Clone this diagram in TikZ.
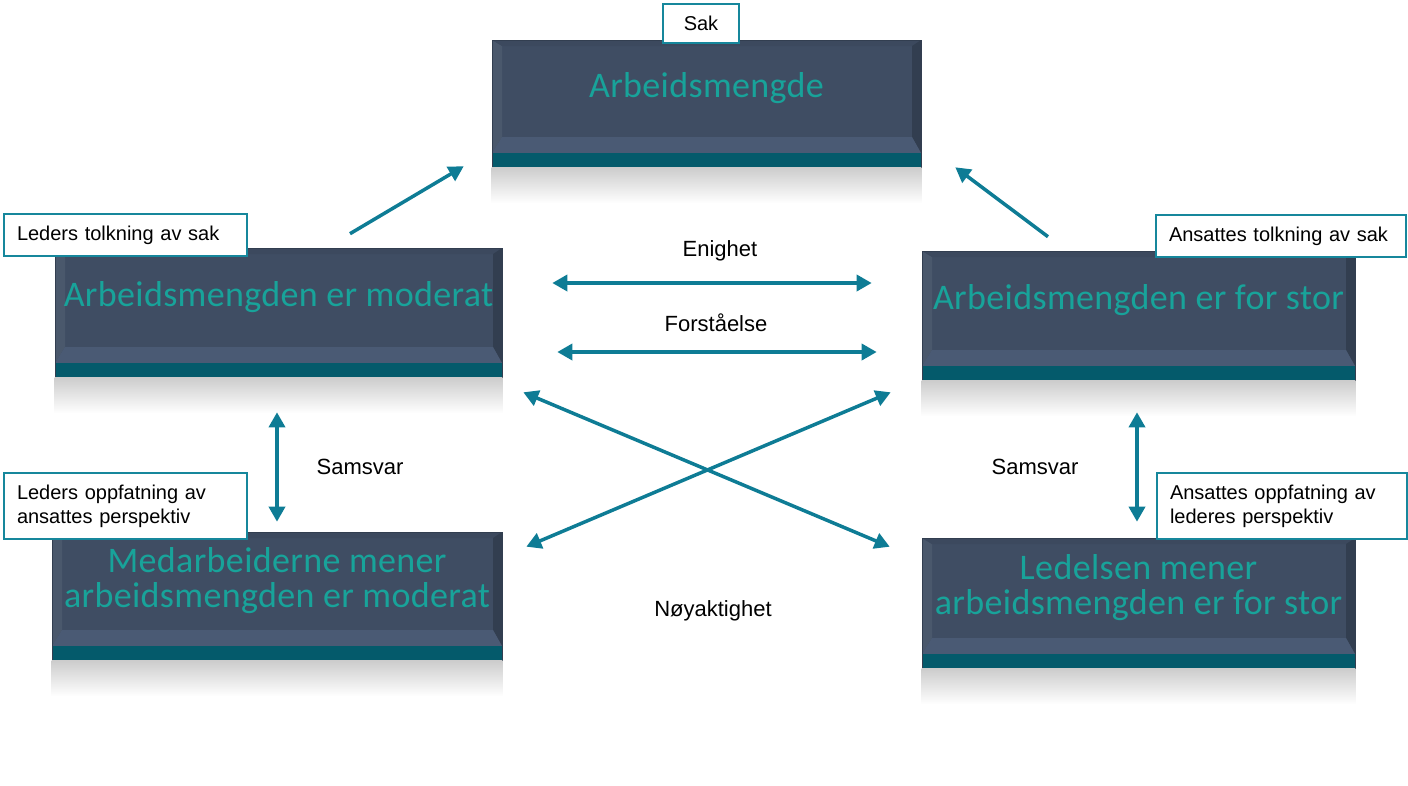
\documentclass[tikz,border=0pt]{standalone}
\usepackage{fontspec}
\setmainfont{Liberation Sans}
\newfontfamily\viewfont[LetterSpace=1]{Carlito}
\usetikzlibrary{arrows.meta}

\definecolor{slate}{HTML}{3F4D63}
\definecolor{slatelight}{HTML}{4A5A74}
\definecolor{slatedark}{HTML}{323E50}
\definecolor{stripteal}{HTML}{045A6B}
\definecolor{wordteal}{HTML}{18A39A}
\definecolor{arrowteal}{HTML}{0E7C95}
\definecolor{tagteal}{HTML}{16879C}

\begin{document}
\begin{tikzpicture}[x=1pt, y=-1pt,
    viewbox/.style={rectangle, fill=slate, draw=slatedark, line width=0.6pt, inner sep=0pt,
        path picture={
            \coordinate (sw) at (path picture bounding box.south west);
            \coordinate (se) at (path picture bounding box.south east);
            \coordinate (nw) at (path picture bounding box.north west);
            \coordinate (ne) at (path picture bounding box.north east);
            % bevel edges
            \fill[slate!94!white] ([yshift=14pt]sw) -- (nw) -- ([shift={(10pt,-6pt)}]nw) -- ([shift={(10pt,30pt)}]sw) -- cycle;
            \fill[slatedark!25!slate] (nw) -- (ne) -- ([shift={(-9pt,-6pt)}]ne) -- ([shift={(10pt,-6pt)}]nw) -- cycle;
            \fill[slatedark] (ne) -- ([yshift=14pt]se) -- ([shift={(-9pt,30pt)}]se) -- ([shift={(-9pt,-6pt)}]ne) -- cycle;
            \fill[slatelight] ([yshift=14pt]sw) -- ([yshift=14pt]se) -- ([shift={(-9pt,30pt)}]se) -- ([shift={(10pt,30pt)}]sw) -- cycle;
            % base strip
            \fill[stripteal] (sw) rectangle ([yshift=14pt]se);
        }},
    viewtext/.style={text=wordteal, align=center, font=\viewfont\fontsize{36}{35}\selectfont},
    tagbox/.style={rectangle, draw=tagteal, line width=2pt, fill=white, align=left, inner xsep=13pt, inner ysep=0pt, anchor=north west, font=\fontsize{20}{24}\selectfont},
    relation/.style={font=\fontsize{22}{26}\selectfont},
    link/.style={draw=arrowteal, line width=3.5pt, -{Triangle[length=15pt,width=16pt]}},
    twolink/.style={link, {Triangle[length=15pt,width=16pt]}-{Triangle[length=15pt,width=16pt]}},
]
    \useasboundingbox (0,0) rectangle (1408,785);

    %Boxes
    \node[viewbox, minimum width=429pt, minimum height=127pt] (load) at (706.5,103.5) {};
    \node[viewbox, minimum width=447pt, minimum height=129pt] (leader) at (278.5,312.5) {};
    \node[viewbox, minimum width=433pt, minimum height=129pt] (staff) at (1138.5,315.5) {};
    \node[viewbox, minimum width=450pt, minimum height=128pt] (leaderview) at (277,596) {};
    \node[viewbox, minimum width=433pt, minimum height=130pt] (staffview) at (1138.5,603) {};

    %Reflections
    \foreach \b in {load,leader,staff,leaderview,staffview}
        \shade[top color=black!20, bottom color=white] (\b.south west) rectangle ([yshift=-36pt]\b.south east);

    %Box texts
    \node[viewtext] (loadtext) at ([yshift=15pt]load.center) {Arbeidsmengde};
    \node[viewtext] (leadertext) at ([yshift=15pt]leader.center) {Arbeidsmengden er moderat};
    \node[viewtext] (stafftext) at ([yshift=15pt]staff.center) {Arbeidsmengden er for stor};
    \node[viewtext] (leaderviewtext) at ([yshift=15pt]leaderview.center) {Medarbeiderne mener\\arbeidsmengden er moderat};
    \node[viewtext] (staffviewtext) at ([yshift=15pt]staffview.center) {Ledelsen mener\\arbeidsmengden er for stor};

    %Tags
    \node[tagbox, align=center, inner xsep=0pt, text width=76pt, minimum height=39pt] (casetag) at (662,3) {Sak};
    \node[tagbox, text width=217pt, minimum height=42pt] (leadertag) at (3,213) {Leders tolkning av sak};
    \node[tagbox, text width=224pt, minimum height=42pt] (stafftag) at (1155,214) {Ansattes tolkning av sak};
    \node[tagbox, text width=217pt, minimum height=66pt] (leaderviewtag) at (3,472) {Leders oppfatning av\\ansattes perspektiv};
    \node[tagbox, text width=224pt, minimum height=66pt] (staffviewtag) at (1156,472) {Ansattes oppfatning av\\lederes perspektiv};

    %Relations
    \node[relation] (agree) at (720,251) {Enighet};
    \node[relation] (understand) at (716,323) {Forståelse};
    \node[relation] (matchleft) at (360,467) {Samsvar};
    \node[relation] (matchright) at (1035,467) {Samsvar};
    \node[relation] (accuracy) at (713,611) {Nøyaktighet};

    %Lines
    \draw[link] ([shift={(71.5,-14)}]leader.north) -- ([shift={(-28,-1)}]load.south west);
    \draw[link] ([shift={(-90.5,-14)}]staff.north) -- ([shift={(34,0)}]load.south east);
    \draw[twolink] ([shift={(50,-29.5)}]leader.east) -- ([shift={(-50,-32.5)}]staff.west);
    \draw[twolink] ([shift={(55,39.5)}]leader.east) -- ([shift={(-45,36.5)}]staff.west);
    \draw[twolink] ([shift={(-1.5,35)}]leader.south) -- ([shift={(0,-10)}]leaderview.north);
    \draw[twolink] ([shift={(-1.5,32)}]staff.south) -- ([shift={(-1.5,-16)}]staffview.north);
    \draw[twolink] ([shift={(21,15)}]leader.south east) -- ([shift={(-32,9)}]staffview.north west);
    \draw[twolink] ([shift={(-31,12)}]staff.south west) -- ([shift={(24,15)}]leaderview.north east);
\end{tikzpicture}
\end{document}
